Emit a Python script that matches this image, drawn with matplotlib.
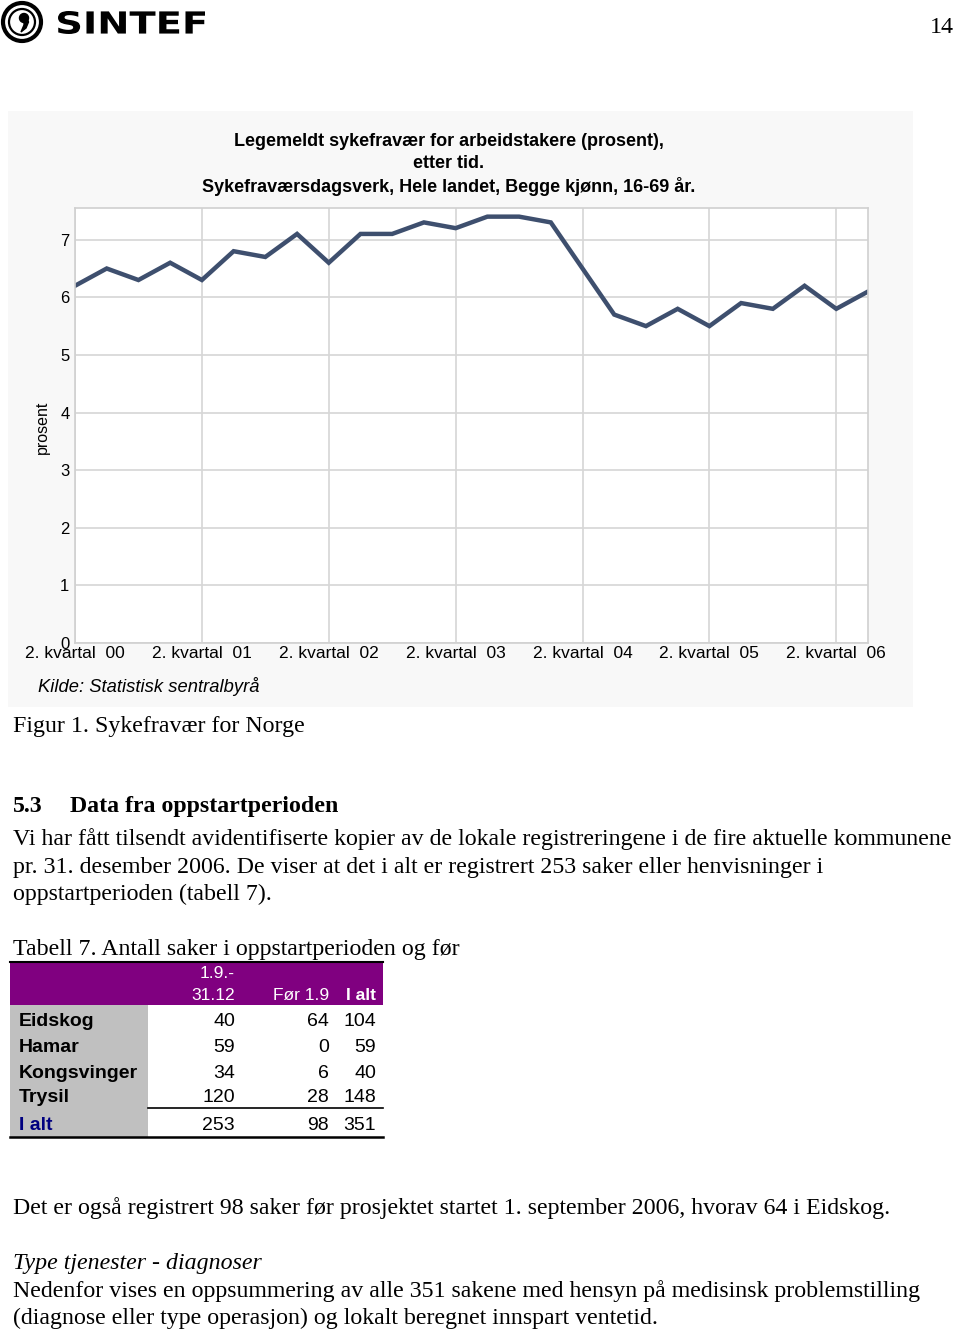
import matplotlib
matplotlib.use('Agg')
import matplotlib.pyplot as plt
from matplotlib.patches import Rectangle, Circle, PathPatch, Polygon
from matplotlib.textpath import TextPath
from matplotlib.font_manager import FontProperties
from matplotlib.transforms import Affine2D

# Legemeldt sykefravær, 2. kvartal 2000 - 3. kvartal 2006 (prosent)
sykefravaer = [6.2, 6.5, 6.3, 6.6, 6.3, 6.8, 6.7, 7.1, 6.6, 7.1, 7.1, 7.3, 7.2,
               7.4, 7.4, 7.3, 6.5, 5.7, 5.5, 5.8, 5.5, 5.9, 5.8, 6.2, 5.8, 6.1]
kvartal_labels = ['2. kvartal  00', '2. kvartal  01', '2. kvartal  02',
                  '2. kvartal  03', '2. kvartal  04', '2. kvartal  05',
                  '2. kvartal  06']
y_ticks = [0, 1, 2, 3, 4, 5, 6, 7]

# Tabell 7
kommuner = ['Eidskog', 'Hamar', 'Kongsvinger', 'Trysil']
saker_periode = [40, 59, 34, 120]
saker_for = [64, 0, 6, 28]
saker_totalt = [104, 59, 40, 148]
saker_ialt = [253, 98, 351]

W, H = 960, 1332
SERIF = 'Liberation Serif'
SANS = 'Liberation Sans'
BODY = 17.2

fig = plt.figure(figsize=(W / 100, H / 100), dpi=100)

# page overlay in pixel coordinates
page = fig.add_axes([0, 0, 1, 1])
page.set_xlim(0, W)
page.set_ylim(H, 0)
page.axis('off')

# logo
page.add_patch(Circle((22, 22), 19, fill=False, lw=3.0, ec='black'))
page.add_patch(Circle((22, 22), 13, fill=False, lw=1.6, ec='black'))
page.add_patch(Circle((24, 18), 4.5, color='black'))
page.add_patch(Polygon([(27, 18), (28.5, 22), (26, 28), (21, 32), (24, 25), (24, 20)],
                       closed=True, color='black'))
tp = TextPath((0, 0), 'SINTEF', size=1,
              prop=FontProperties(family='DejaVu Sans', weight='bold'))
ext = tp.get_extents()
tr = Affine2D().translate(-ext.x0, -ext.y0).scale(147 / ext.width, -23 / ext.height).translate(58, 34)
page.add_patch(PathPatch(tp, transform=tr + page.transData, color='black', lw=0))

page.text(930, 33, '14', family=SERIF, fontsize=BODY, va='baseline')

# chart background
page.add_patch(Rectangle((8, 111), 905, 596, color='#f8f8f8', lw=0))

title_lines = ['Legemeldt sykefravær for arbeidstakere (prosent),',
               'etter tid.',
               'Sykefraværsdagsverk, Hele landet, Begge kjønn, 16-69 år.']
for i, line in enumerate(title_lines):
    page.text(449, 141 + i * 22.5, line, family=SANS, weight='bold',
              fontsize=13, ha='center', va='center')

page.text(42, 427, 'prosent', family=SANS, fontsize=11.5, rotation=90,
          ha='center', va='center')
page.text(38, 687, 'Kilde: Statistisk sentralbyrå', family=SANS, style='italic',
          fontsize=13.2, va='center')

# the line chart
ax = fig.add_axes([75 / W, 1 - 643 / H, 793 / W, 435 / H])
ax.set_facecolor('white')
ax.plot(range(len(sykefravaer)), sykefravaer, color='#3e4f6e', lw=3.2,
        solid_joinstyle='miter')
ax.set_xlim(0, len(sykefravaer) - 1)
ax.set_ylim(0, 7.55)
ax.set_xticks(range(0, len(sykefravaer), 4))
ax.set_xticklabels(kvartal_labels, family=SANS, fontsize=12.5)
ax.set_yticks(y_ticks)
ax.set_yticklabels([str(v) for v in y_ticks], family=SANS, fontsize=12)
ax.tick_params(length=0, pad=2.5)
ax.tick_params(axis='y', pad=4)
ax.grid(True, color='#d6d6d6', lw=1.2)
ax.set_axisbelow(True)
for s in ax.spines.values():
    s.set_color('#d0d0d0')
    s.set_linewidth(1.2)

# body text
page.text(13, 732, 'Figur 1. Sykefravær for Norge', family=SERIF, fontsize=BODY, va='baseline')
page.text(13, 812, '5.3', family=SERIF, weight='bold', fontsize=BODY, va='baseline')
page.text(70, 812, 'Data fra oppstartperioden', family=SERIF, weight='bold', fontsize=BODY,
          va='baseline')
para = ['Vi har fått tilsendt avidentifiserte kopier av de lokale registreringene i de fire aktuelle kommunene',
        'pr. 31. desember 2006. De viser at det i alt er registrert 253 saker eller henvisninger i',
        'oppstartperioden (tabell 7).']
for i, line in enumerate(para):
    page.text(13, 845 + i * 27.5, line, family=SERIF, fontsize=BODY, va='baseline')
page.text(13, 955, 'Tabell 7. Antall saker i oppstartperioden og før', family=SERIF,
          fontsize=BODY, va='baseline')

# table
page.add_patch(Rectangle((10, 962), 373, 43, color='#800080', lw=0))
page.add_patch(Rectangle((10, 1005), 138, 132, color='#c0c0c0', lw=0))
page.plot([10, 383], [962, 962], color='black', lw=1.5)
page.plot([148, 383], [1108, 1108], color='black', lw=1.2)
page.plot([10, 383], [1137, 1137], color='black', lw=1.8)

col_x = [235, 329, 376]
page.text(col_x[0], 974, '1.9.-', family=SANS, fontsize=12.5, color='white',
          ha='right', va='center')
page.text(col_x[0], 995, '31.12', family=SANS, fontsize=12.5, color='white',
          ha='right', va='center')
page.text(col_x[1], 995, 'Før 1.9', family=SANS, fontsize=12.5, color='white',
          ha='right', va='center')
page.text(col_x[2], 995, 'I alt', family=SANS, weight='bold', fontsize=12.5,
          color='white', ha='right', va='center')

row_y = [1022, 1047, 1073, 1098]
for i, navn in enumerate(kommuner):
    y = row_y[i]
    page.text(19, y, navn, family=SANS, weight='bold', fontsize=14, va='center')
    for x, v in zip(col_x, [saker_periode[i], saker_for[i], saker_totalt[i]]):
        page.text(x, y, str(v), family=SANS, fontsize=14, ha='right', va='center')
page.text(19, 1126, 'I alt', family=SANS, weight='bold', fontsize=14, color='#000080',
          va='center')
for x, v in zip(col_x, saker_ialt):
    page.text(x, 1126, str(v), family=SANS, fontsize=14, ha='right', va='center')

page.text(13, 1214, 'Det er også registrert 98 saker før prosjektet startet 1. september 2006, '
          'hvorav 64 i Eidskog.', family=SERIF, fontsize=BODY, va='baseline')
page.text(13, 1269, 'Type tjenester - diagnoser', family=SERIF, style='italic', fontsize=BODY,
          va='baseline')
page.text(13, 1297, 'Nedenfor vises en oppsummering av alle 351 sakene med hensyn på medisinsk '
          'problemstilling', family=SERIF, fontsize=BODY, va='baseline')
page.text(13, 1324, '(diagnose eller type operasjon) og lokalt beregnet innspart ventetid.',
          family=SERIF, fontsize=BODY, va='baseline')

fig.savefig('out.png', dpi=100)
